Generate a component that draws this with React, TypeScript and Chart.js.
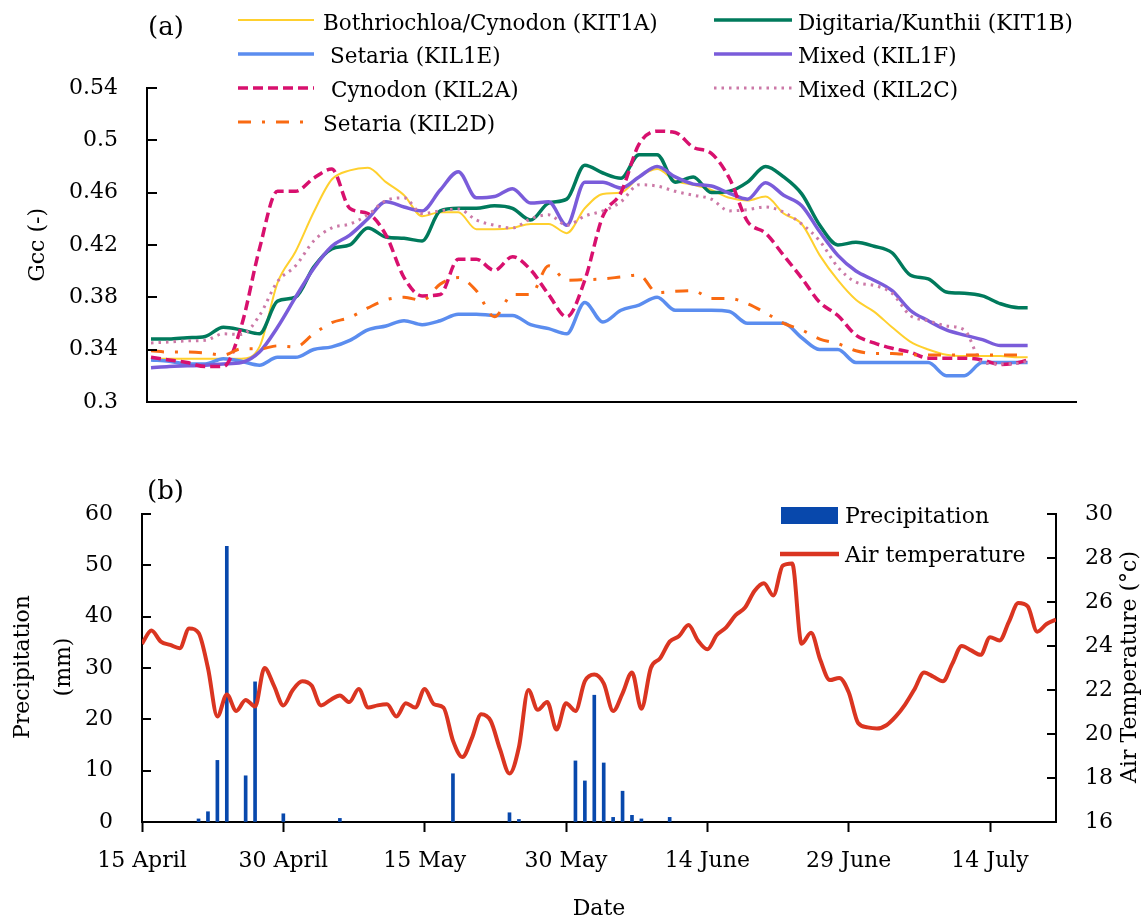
import React, { useEffect, useRef } from 'react';
import { Chart, registerables } from 'chart.js';

Chart.register(...registerables);

const FONT = "'DejaVu Serif', serif";

// ---------------- Panel (a): Gcc ----------------
const gccDays = [0, 2, 4, 6, 8, 10, 12, 14, 16, 18, 20, 22, 24, 26, 28, 30, 32, 34, 36, 38, 40, 42, 44, 46, 48, 50, 52, 54, 56, 58, 60, 62, 64, 66, 68, 70, 72, 74, 76, 78, 80, 82, 84, 86, 88, 90, 92, 94, 96, 97];
const gccTicks = [0.3, 0.34, 0.38, 0.42, 0.46, 0.5, 0.54];

const kit1a = [0.333, 0.333, 0.333, 0.333, 0.333, 0.333, 0.342, 0.391, 0.415, 0.445, 0.47, 0.477, 0.479, 0.468, 0.458, 0.442, 0.445, 0.445, 0.432, 0.432, 0.433, 0.436, 0.436, 0.429, 0.448, 0.459, 0.46, 0.472, 0.478, 0.469, 0.466, 0.462, 0.456, 0.454, 0.457, 0.444, 0.436, 0.412, 0.393, 0.378, 0.369, 0.357, 0.346, 0.34, 0.336, 0.335, 0.335, 0.335, 0.334, 0.334];
const kit1b = [0.348, 0.348, 0.349, 0.35, 0.357, 0.355, 0.352, 0.377, 0.38, 0.403, 0.417, 0.42, 0.433, 0.426, 0.425, 0.423, 0.446, 0.448, 0.448, 0.45, 0.448, 0.439, 0.452, 0.455, 0.481, 0.475, 0.471, 0.489, 0.489, 0.468, 0.472, 0.46, 0.461, 0.468, 0.48, 0.472, 0.459, 0.435, 0.42, 0.422, 0.419, 0.414, 0.397, 0.394, 0.384, 0.383, 0.381, 0.375, 0.372, 0.372];
const kil1e = [0.332, 0.331, 0.329, 0.329, 0.333, 0.331, 0.328, 0.334, 0.334, 0.34, 0.342, 0.347, 0.355, 0.358, 0.362, 0.359, 0.362, 0.367, 0.367, 0.366, 0.366, 0.359, 0.356, 0.352, 0.376, 0.361, 0.37, 0.374, 0.38, 0.37, 0.37, 0.37, 0.369, 0.36, 0.36, 0.36, 0.349, 0.34, 0.34, 0.33, 0.33, 0.33, 0.33, 0.33, 0.32, 0.32, 0.33, 0.33, 0.33, 0.33];
const kil1f = [0.326, 0.327, 0.3275, 0.328, 0.329, 0.33, 0.338, 0.357, 0.38, 0.402, 0.419, 0.4275, 0.44, 0.453, 0.449, 0.446, 0.462, 0.476, 0.456, 0.457, 0.463, 0.452, 0.453, 0.435, 0.468, 0.468, 0.4635, 0.472, 0.48, 0.472, 0.4665, 0.465, 0.4595, 0.455, 0.4675, 0.458, 0.45, 0.43, 0.412, 0.4, 0.393, 0.385, 0.37, 0.362, 0.355, 0.351, 0.3475, 0.343, 0.343, 0.343];
const kil2a = [0.334, 0.332, 0.33, 0.327, 0.327, 0.358, 0.417, 0.461, 0.461, 0.471, 0.478, 0.448, 0.444, 0.4275, 0.395, 0.381, 0.382, 0.409, 0.409, 0.4005, 0.411, 0.401, 0.382, 0.365, 0.393, 0.442, 0.46, 0.497, 0.507, 0.506, 0.4946, 0.49, 0.471, 0.438, 0.429, 0.412, 0.3946, 0.376, 0.366, 0.351, 0.345, 0.341, 0.338, 0.3334, 0.3334, 0.3334, 0.332, 0.3285, 0.33, 0.332];
const kil2c = [0.345, 0.3457, 0.3466, 0.347, 0.352, 0.3515, 0.366, 0.392, 0.404, 0.423, 0.433, 0.436, 0.443, 0.454, 0.456, 0.444, 0.446, 0.4475, 0.439, 0.435, 0.433, 0.44, 0.443, 0.435, 0.442, 0.446, 0.453, 0.466, 0.465, 0.461, 0.458, 0.455, 0.446, 0.447, 0.449, 0.445, 0.436, 0.423, 0.403, 0.3915, 0.389, 0.383, 0.366, 0.362, 0.358, 0.355, 0.33, 0.329, 0.3295, 0.331];
const kil2d = [0.339, 0.338, 0.338, 0.3374, 0.3357, 0.3405, 0.3405, 0.3428, 0.342, 0.352, 0.3605, 0.3645, 0.3718, 0.378, 0.38, 0.3775, 0.39, 0.395, 0.385, 0.365, 0.382, 0.382, 0.404, 0.393, 0.3934, 0.394, 0.3955, 0.397, 0.3835, 0.3845, 0.385, 0.379, 0.379, 0.375, 0.368, 0.36, 0.355, 0.348, 0.3445, 0.339, 0.337, 0.337, 0.336, 0.3358, 0.3358, 0.3358, 0.3358, 0.3358, 0.3358, 0.3358];

const seriesNames = [
  'Bothriochloa/Cynodon (KIT1A)',
  'Digitaria/Kunthii (KIT1B)',
  'Setaria (KIL1E)',
  'Mixed (KIL1F)',
  'Cynodon (KIL2A)',
  'Mixed (KIL2C)',
  'Setaria (KIL2D)',
];

// ---------------- Panel (b): precipitation & temperature ----------------
const dateTickDays = [0, 15, 30, 45, 60, 75, 90];
const dateTickLabels = ['15 April', '30 April', '15 May', '30 May', '14 June', '29 June', '14 July'];
const precipTicks = [0, 10, 20, 30, 40, 50, 60];
const tempTicks = [16, 18, 20, 22, 24, 26, 28, 30];

const precipDays = [6, 7, 8, 9, 11, 12, 15, 21, 33, 39, 40, 46, 47, 48, 49, 50, 51, 52, 53, 56];
const precipMm = [0.6, 2, 12, 53.7, 9, 27.3, 1.6, 0.7, 9.4, 1.8, 0.5, 11.9, 8, 24.7, 11.5, 0.9, 6, 1.3, 0.6, 0.9];

const tempDays = [0, 1, 2, 3, 4, 5, 6, 7, 8, 9, 10, 11, 12, 13, 14, 15, 16, 17, 18, 19, 20, 21, 22, 23, 24, 25, 26, 27, 28, 29, 30, 31, 32, 33, 34, 35, 36, 37, 38, 39, 40, 41, 42, 43, 44, 45, 46, 47, 48, 49, 50, 51, 52, 53, 54, 55, 56, 57, 58, 59, 60, 61, 62, 63, 64, 65, 66, 67, 68, 69, 70, 71, 72, 73, 74, 75, 76, 77, 78, 79, 80, 81, 82, 83, 84, 85, 86, 87, 88, 89, 90, 91, 92, 93, 94, 95, 96, 97];
const tempC = [24.1, 24.7, 24.2, 24.05, 23.9, 24.8, 24.6, 23.0, 20.8, 21.8, 21.05, 21.55, 21.25, 23.0, 22.2, 21.3, 22.0, 22.4, 22.2, 21.3, 21.55, 21.75, 21.45, 22.05, 21.2, 21.3, 21.35, 20.8, 21.4, 21.2, 22.05, 21.35, 21.2, 19.7, 18.95, 19.8, 20.9, 20.6, 19.3, 18.2, 19.4, 22.0, 21.1, 21.45, 20.2, 21.4, 21.05, 22.4, 22.7, 22.3, 21.05, 21.85, 22.8, 21.15, 23.0, 23.45, 24.2, 24.45, 24.95, 24.25, 23.85, 24.5, 24.85, 25.4, 25.75, 26.5, 26.85, 26.3, 27.65, 27.75, 24.1, 24.6, 23.35, 22.45, 22.55, 21.9, 20.5, 20.3, 20.25, 20.4, 20.8, 21.35, 22.05, 22.8, 22.6, 22.4, 23.2, 24.0, 23.8, 23.6, 24.4, 24.25, 25.1, 25.95, 25.8, 24.65, 25.0, 25.2];

// ---------------- styles ----------------
const gccStyles = [
  { color: '#FFD02E', width: 2, dash: [] as number[] },
  { color: '#007A5C', width: 3.5, dash: [] as number[] },
  { color: '#5B8DEF', width: 3.5, dash: [] as number[] },
  { color: '#7A5CDA', width: 3.5, dash: [] as number[] },
  { color: '#D8106E', width: 3.5, dash: [10, 5] },
  { color: '#CC79A7', width: 3, dash: [2.5, 5] },
  { color: '#F96A12', width: 3, dash: [13, 11, 3, 11] },
];
const gccValues = [kit1a, kit1b, kil1e, kil1f, kil2a, kil2c, kil2d];

const legendSlotsA = [
  { x1: 238, x2: 314, ly: 20, tx: 323, ty: 29.5 },
  { x1: 714, x2: 792, ly: 20, tx: 798, ty: 29.5 },
  { x1: 238, x2: 314, ly: 54, tx: 330, ty: 63 },
  { x1: 714, x2: 792, ly: 54, tx: 798, ty: 63 },
  { x1: 238, x2: 314, ly: 88, tx: 331, ty: 97 },
  { x1: 714, x2: 792, ly: 88, tx: 798, ty: 97 },
  { x1: 238, x2: 314, ly: 122, tx: 323, ty: 131 },
];

const BAR_BLUE = '#0848AC';
const TEMP_RED = '#DA3521';

function inwardTicks(axes: { id: string; side: 'left' | 'right'; len: number }[]) {
  return {
    id: 'inwardTicks',
    afterDraw(chart: any) {
      const ctx = chart.ctx;
      ctx.save();
      ctx.strokeStyle = '#000';
      ctx.lineWidth = 2;
      for (const a of axes) {
        const s = chart.scales[a.id];
        for (const t of s.ticks) {
          const py = Math.round(s.getPixelForValue(t.value));
          const x0 = a.side === 'left' ? s.right : s.left;
          const x1 = a.side === 'left' ? x0 + a.len : x0 - a.len;
          ctx.beginPath();
          ctx.moveTo(x0, py);
          ctx.lineTo(x1, py);
          ctx.stroke();
        }
      }
      ctx.restore();
    },
  };
}

const axisFont = { family: FONT, size: 22 };

export default function App() {
  const refA = useRef<HTMLCanvasElement>(null);
  const refB = useRef<HTMLCanvasElement>(null);

  useEffect(() => {
    const legendA = {
      id: 'legendA',
      afterDraw(chart: any) {
        const ctx = chart.ctx;
        ctx.save();
        ctx.font = `21.5px ${FONT}`;
        ctx.fillStyle = '#000';
        ctx.textBaseline = 'alphabetic';
        ctx.textAlign = 'left';
        legendSlotsA.forEach((slot, i) => {
          const ds = chart.data.datasets[i];
          ctx.strokeStyle = ds.borderColor;
          ctx.lineWidth = ds.borderWidth;
          ctx.setLineDash(ds.borderDash || []);
          ctx.beginPath();
          ctx.moveTo(slot.x1, slot.ly);
          ctx.lineTo(slot.x2, slot.ly);
          ctx.stroke();
          ctx.setLineDash([]);
          ctx.fillText(ds.label, slot.tx, slot.ty);
        });
        ctx.font = `26px ${FONT}`;
        ctx.fillText('(a)', 148, 34.5);
        ctx.restore();
      },
    };

    const chartA = new Chart(refA.current as HTMLCanvasElement, {
      type: 'line',
      data: {
        datasets: gccValues.map((vals, i) => ({
          label: seriesNames[i],
          data: gccDays.map((d, j) => ({ x: d, y: vals[j] })),
          borderColor: gccStyles[i].color,
          backgroundColor: gccStyles[i].color,
          borderWidth: gccStyles[i].width,
          borderDash: gccStyles[i].dash,
          pointRadius: 0,
          fill: false,
          cubicInterpolationMode: 'monotone',
          order: 10 - i,
        })),
      } as any,
      options: {
        responsive: false,
        animation: false,
        events: [],
        layout: { padding: { left: 0, top: 88, right: 70, bottom: 16 } },
        plugins: { legend: { display: false }, tooltip: { enabled: false } },
        scales: {
          x: {
            type: 'linear',
            min: -0.443,
            max: 102.35,
            ticks: { display: false },
            grid: { display: true, drawOnChartArea: false, drawTicks: false, offset: false },
            border: { display: true, color: '#000', width: 2 },
            afterFit: (s: any) => { s.height = 0; },
          },
          y: {
            type: 'linear',
            min: 0.3,
            max: 0.54,
            afterBuildTicks: (s: any) => { s.ticks = gccTicks.map((v) => ({ value: v })); },
            ticks: {
              padding: 29,
              color: '#000',
              font: axisFont,
              callback: (v: any) => String(+Number(v).toFixed(2)),
            },
            grid: { display: true, drawOnChartArea: false, drawTicks: false },
            border: { display: true, color: '#000', width: 2 },
            title: { display: true, text: 'Gcc (-)', color: '#000', font: axisFont, padding: { top: 25, bottom: 0 } },
            afterFit: (s: any) => { s.width = 147; },
          },
        },
      } as any,
      plugins: [inwardTicks([{ id: 'y', side: 'left', len: 10 }]), legendA],
    });

    const decorB = {
      id: 'decorB',
      afterDraw(chart: any) {
        const ctx = chart.ctx;
        ctx.save();
        ctx.fillStyle = '#000';
        ctx.textAlign = 'left';
        ctx.textBaseline = 'alphabetic';
        ctx.font = `26px ${FONT}`;
        ctx.fillText('(b)', 147, 54.6);
        // legend
        ctx.font = `22px ${FONT}`;
        ctx.fillStyle = BAR_BLUE;
        ctx.fillRect(781, 63, 57, 17);
        ctx.fillStyle = '#000';
        ctx.fillText(chart.data.datasets[1].label, 845, 79.3);
        ctx.strokeStyle = TEMP_RED;
        ctx.lineWidth = 4.5;
        ctx.beginPath();
        ctx.moveTo(780, 110);
        ctx.lineTo(839, 110);
        ctx.stroke();
        ctx.fillText(chart.data.datasets[0].label, 845, 117.7);
        // left title (two lines)
        ctx.textAlign = 'center';
        ctx.save();
        ctx.translate(28.5, 223);
        ctx.rotate(-Math.PI / 2);
        ctx.fillText('Precipitation', 0, 0);
        ctx.restore();
        ctx.save();
        ctx.translate(69.5, 223);
        ctx.rotate(-Math.PI / 2);
        ctx.fillText('(mm)', 0, 0);
        ctx.restore();
        // right title
        ctx.save();
        ctx.translate(1136, 223);
        ctx.rotate(-Math.PI / 2);
        ctx.fillText('Air Temperature (°c)', 0, 0);
        ctx.restore();
        ctx.restore();
      },
    };

    const chartB = new Chart(refB.current as HTMLCanvasElement, {
      type: 'bar',
      data: {
        datasets: [
          {
            type: 'line',
            label: 'Air temperature',
            data: tempDays.map((d, i) => ({ x: d, y: tempC[i] })),
            yAxisID: 'y1',
            borderColor: TEMP_RED,
            backgroundColor: TEMP_RED,
            borderWidth: 4,
            pointRadius: 0,
            fill: false,
            cubicInterpolationMode: 'monotone',
            order: 0,
          },
          {
            type: 'bar',
            label: 'Precipitation',
            data: precipDays.map((d, i) => ({ x: d, y: precipMm[i] })),
            yAxisID: 'y',
            backgroundColor: BAR_BLUE,
            barThickness: 3,
            grouped: false,
            order: 1,
          },
        ],
      } as any,
      options: {
        responsive: false,
        animation: false,
        events: [],
        layout: { padding: { left: 0, top: 70, right: 0, bottom: 0 } },
        plugins: { legend: { display: false }, tooltip: { enabled: false } },
        scales: {
          x: {
            type: 'linear',
            position: 'bottom',
            min: 0,
            max: 97,
            offset: false,
            afterBuildTicks: (s: any) => { s.ticks = dateTickDays.map((v) => ({ value: v })); },
            ticks: {
              autoSkip: false,
              maxRotation: 0,
              padding: 16,
              color: '#000',
              font: axisFont,
              callback: (v: any) => {
                const k = dateTickDays.indexOf(Number(v));
                return k >= 0 ? dateTickLabels[k] : '';
              },
            },
            grid: { display: true, offset: false, drawOnChartArea: false, drawTicks: true, tickLength: 10, tickWidth: 2, tickColor: '#000' },
            border: { display: true, color: '#000', width: 2 },
            title: { display: true, text: 'Date', color: '#000', font: axisFont, padding: { top: 0, bottom: 2 } },
            afterFit: (s: any) => { s.height = 102; },
          },
          y: {
            type: 'linear',
            position: 'left',
            min: 0,
            max: 60,
            afterBuildTicks: (s: any) => { s.ticks = precipTicks.map((v) => ({ value: v })); },
            ticks: { padding: 29, color: '#000', font: axisFont },
            grid: { display: true, drawOnChartArea: false, drawTicks: false },
            border: { display: true, color: '#000', width: 2 },
            afterFit: (s: any) => { s.width = 142; },
          },
          y1: {
            type: 'linear',
            position: 'right',
            min: 16,
            max: 30,
            afterBuildTicks: (s: any) => { s.ticks = tempTicks.map((v) => ({ value: v })); },
            ticks: { padding: 29, color: '#000', font: axisFont },
            grid: { display: true, drawOnChartArea: false, drawTicks: false },
            border: { display: true, color: '#000', width: 2 },
            afterFit: (s: any) => { s.width = 90; },
          },
        },
      } as any,
      plugins: [
        inwardTicks([
          { id: 'y', side: 'left', len: 9 },
          { id: 'y1', side: 'right', len: 9 },
        ]),
        decorB,
      ],
    });

    return () => {
      chartA.destroy();
      chartB.destroy();
    };
  }, []);

  return (
    <div style={{ position: 'absolute', left: 0, top: 0, width: 1146, height: 924, background: '#fff', overflow: 'hidden' }}>
      <canvas ref={refA} width={1146} height={444} style={{ display: 'block', width: 1146, height: 444 }} />
      <canvas ref={refB} width={1146} height={480} style={{ display: 'block', width: 1146, height: 480 }} />
    </div>
  );
}
